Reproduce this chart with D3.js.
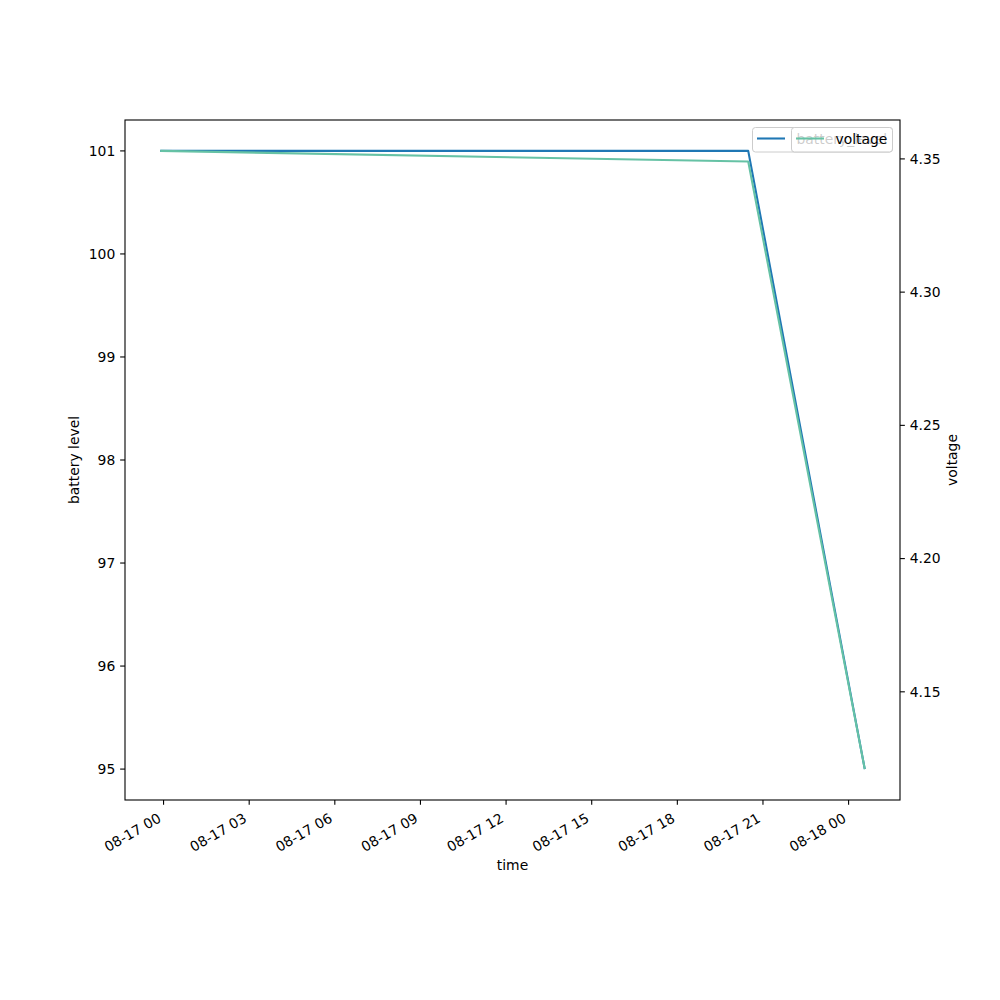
<!DOCTYPE html>
<html><head><meta charset="utf-8">
<script src="https://cdn.jsdelivr.net/npm/d3@7"></script>
<style>body{margin:0;background:#fff}text{font-family:"DejaVu Sans",sans-serif}</style>
</head><body>
<svg id="c" width="1000" height="1000"></svg>
<script>
const times = ["2023-08-16T23:53:00","2023-08-17T20:29:00","2023-08-18T00:34:00"];
const batteryLevel = [101, 101, 95];
const voltage = [4.353, 4.349, 4.121];
const batteryTicks = [95, 96, 97, 98, 99, 100, 101];
const voltageTicks = [4.15, 4.20, 4.25, 4.30, 4.35];
const xTickTimes = ["2023-08-17T00:00:00","2023-08-17T03:00:00","2023-08-17T06:00:00","2023-08-17T09:00:00","2023-08-17T12:00:00","2023-08-17T15:00:00","2023-08-17T18:00:00","2023-08-17T21:00:00","2023-08-18T00:00:00"];

const parse = d3.timeParse("%Y-%m-%dT%H:%M:%S");
const T = times.map(parse);
const XT = xTickTimes.map(parse);
const L = 125, R = 900, Tp = 120, B = 800;
const fs = 13.9;
const svg = d3.select("#c");

function padExtent(arr) {
  const e = d3.extent(arr); const m = (e[1]-e[0])*0.05;
  return [e[0]-m, e[1]+m];
}
const te = d3.extent(T); const tm = (te[1]-te[0])*0.05;
const x = d3.scaleTime().domain([new Date(+te[0]-tm), new Date(+te[1]+tm)]).range([L, R]);
const y1 = d3.scaleLinear().domain(padExtent(batteryLevel)).range([B, Tp]);
const y2 = d3.scaleLinear().domain(padExtent(voltage)).range([B, Tp]);

const blue = "#1f77b4", green = "#66c2a5";

// lines
const line1 = d3.line().x((d,i)=>x(T[i])).y(d=>y1(d));
const line2 = d3.line().x((d,i)=>x(T[i])).y(d=>y2(d));
svg.append("path").attr("d", line1(batteryLevel)).attr("fill","none").attr("stroke",blue).attr("stroke-width",2.08).attr("stroke-linejoin","round");

// legend 1
const lg1 = svg.append("g");
lg1.append("rect").attr("x",752.5).attr("y",127.5).attr("width",140).attr("height",24.5).attr("rx",3)
  .attr("fill","#fff").attr("fill-opacity",0.8).attr("stroke","#cccccc").attr("stroke-width",1);
lg1.append("line").attr("x1",757).attr("x2",785).attr("y1",138.5).attr("y2",138.5).attr("stroke",blue).attr("stroke-width",2.08);
lg1.append("text").attr("x",796.5).attr("y",143.5).attr("font-size",fs).text("battery_level");

svg.append("path").attr("d", line2(voltage)).attr("fill","none").attr("stroke",green).attr("stroke-width",2.08).attr("stroke-linejoin","round");

// axes frame
const ax = svg.append("g").attr("stroke","#000").attr("stroke-width",1.1);
ax.append("rect").attr("x",L).attr("y",Tp).attr("width",R-L).attr("height",B-Tp).attr("fill","none");

// x ticks
XT.forEach(t => {
  const px = x(t);
  svg.append("line").attr("x1",px).attr("x2",px).attr("y1",B).attr("y2",B+4.86).attr("stroke","#000").attr("stroke-width",1.1);
  svg.append("text").attr("font-size",fs).attr("text-anchor","end")
    .attr("transform",`translate(${px-1.5},${821}) rotate(-30)`).text(d3.timeFormat("%m-%d %H")(t));
});
// left ticks
batteryTicks.forEach(v => {
  const py = y1(v);
  svg.append("line").attr("x1",L-4.86).attr("x2",L).attr("y1",py).attr("y2",py).attr("stroke","#000").attr("stroke-width",1.1);
  svg.append("text").attr("font-size",fs).attr("text-anchor","end").attr("x",L-9.7).attr("y",py).attr("dy","0.35em").text(v);
});
// right ticks
voltageTicks.forEach(v => {
  const py = y2(v);
  svg.append("line").attr("x1",R).attr("x2",R+4.86).attr("y1",py).attr("y2",py).attr("stroke","#000").attr("stroke-width",1.1);
  svg.append("text").attr("font-size",fs).attr("text-anchor","start").attr("x",R+9.7).attr("y",py).attr("dy","0.35em").text(d3.format(".2f")(v));
});

// axis labels
svg.append("text").attr("font-size",fs).attr("text-anchor","middle").attr("x",(L+R)/2).attr("y",870).text("time");
svg.append("text").attr("font-size",fs).attr("text-anchor","middle").attr("transform",`translate(79,${(Tp+B)/2}) rotate(-90)`).text("battery level");
svg.append("text").attr("font-size",fs).attr("text-anchor","middle").attr("transform",`translate(957,${(Tp+B)/2}) rotate(-90)`).text("voltage");

// legend 2
const lg2 = svg.append("g");
lg2.append("rect").attr("x",791.5).attr("y",127.5).attr("width",101).attr("height",24.5).attr("rx",3)
  .attr("fill","#fff").attr("fill-opacity",0.8).attr("stroke","#cccccc").attr("stroke-width",1);
lg2.append("line").attr("x1",796).attr("x2",824).attr("y1",138.5).attr("y2",138.5).attr("stroke",green).attr("stroke-width",2.08);
lg2.append("text").attr("x",835.5).attr("y",143.5).attr("font-size",fs).text("voltage");
</script>
</body></html>
